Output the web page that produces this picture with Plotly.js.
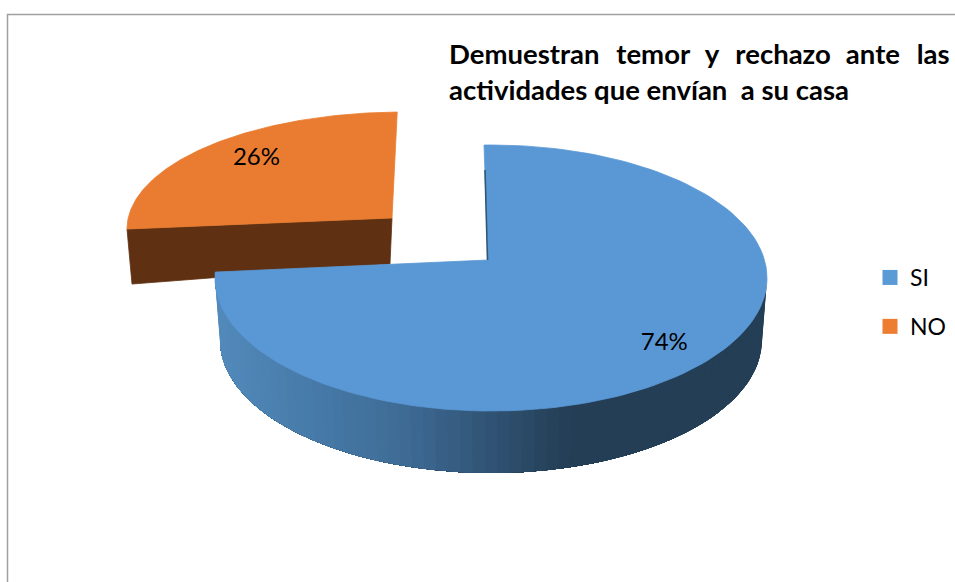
<!DOCTYPE html>
<html><head><meta charset="utf-8">
<script src="https://cdn.plot.ly/plotly-3.0.1.min.js"></script>
<style>html,body{margin:0;padding:0;background:#fff}#c{width:955px;height:582px}</style>
</head><body><div id="c"></div>
<script>
// Data
const categories = ['SI', 'NO'];
const percents = [74, 26];
const colors = ['#5b9bd5', '#ed7d31'];
const faceColors = ['#5a98d5', '#e97c30'];
const gapA = '\u00a0\u00a0\u2009', gapB = '\u00a0\u00a0\u200a';
const titleLine1 = 'Demuestran' + gapA + 'temor' + gapB + 'y' + gapA + 'rechazo' + gapB + 'ante' + gapA + 'las';
const titleLine2 = 'actividades que envían\u00a0 a su casa';

// Drawing geometry of the tilted pie (pixel-based plot coordinates)
const FONT = 'Lato, Carlito, Calibri, sans-serif';
const total = percents.reduce((a, b) => a + b, 0);
const rad = d => d * Math.PI / 180;
const geo = {
  SI: {cx: 491, cy: 278, rx: 276, ry: 133, ax: 488, ay: 260, warp: 14.3, turn: -1.45, labelTurn: -15.5, labelR: 0.80},
  NO: {cx: 403, cy: 229, rx: 276, ry: 117, ax: 392, ay: 218, warp: 9, turn: -1.2, labelTurn: 5, labelR: 0.80}
};
const base = {cx: 491, cy: 340, rx: 271, ry: 133};
const warped = (g, frac) => {
  const t = 360 * frac;
  return t + g.turn + g.warp * (1 - Math.cos(rad(t))) / 2;
};
const onEllipse = (e, deg) => [e.cx + e.rx * Math.sin(rad(deg)), e.cy - e.ry * Math.cos(rad(deg))];

function face(g, f0, f1) {
  const xs = [g.ax], ys = [g.ay];
  for (let i = 0; i <= 150; i++) {
    const p = onEllipse(g, warped(g, f0 + (f1 - f0) * i / 150));
    xs.push(p[0]); ys.push(p[1]);
  }
  xs.push(g.ax); ys.push(g.ay);
  return {x: xs, y: ys};
}
function poly(x, y, color, w) {
  return {type: 'scatter', mode: 'lines', x, y, fill: 'toself', fillcolor: color,
    line: {color, width: w === undefined ? 0.8 : w}, showlegend: false, hoverinfo: 'skip'};
}
function wallColor(x) {
  const stops = [[215, [82, 138, 188]], [300, [72, 124, 170]], [400, [62, 108, 150]], [500, [47, 80, 112]], [570, [35, 62, 85]], [770, [35, 62, 85]]];
  for (let i = 1; i < stops.length; i++) {
    if (x <= stops[i][0]) {
      const t = (x - stops[i - 1][0]) / (stops[i][0] - stops[i - 1][0]);
      const c = stops[i][1].map((v, k) => Math.round(stops[i - 1][1][k] + (v - stops[i - 1][1][k]) * Math.max(t, 0)));
      return 'rgb(' + c.join(',') + ')';
    }
  }
  return 'rgb(35,62,85)';
}

const fEnd = percents[0] / total;
const traces = [];

// NO: exploded slice, cut wall then top face
const gN = geo.NO;
const nLeft = onEllipse(gN, warped(gN, fEnd));
traces.push(poly([nLeft[0], gN.ax, gN.ax - 2, nLeft[0] + 5, nLeft[0]],
                 [nLeft[1], gN.ay, gN.ay + 46, nLeft[1] + 55, nLeft[1]], '#5f3112'));
const fn = face(gN, fEnd, 1);
traces.push(poly(fn.x, fn.y, faceColors[1]));

// SI: outer wall in narrow shaded bands, then top face.
const gS = geo.SI;
const wallEnd = warped(gS, fEnd);
const bands = 70;
for (let i = 0; i < bands; i++) {
  const a = 90 + (wallEnd - 90) * i / bands;
  const xs = [], ys = [], xb = [], yb = [];
  for (let k = i; k <= bands; k++) {
    const d = 90 + (wallEnd - 90) * k / bands;
    const t = onEllipse(gS, d), u = onEllipse(base, d);
    xs.push(t[0]); ys.push(t[1]); xb.unshift(u[0]); yb.unshift(u[1]);
  }
  const mid = onEllipse(gS, a + (wallEnd - 90) / bands / 2);
  traces.push(poly(xs.concat(xb, xs[0]), ys.concat(yb, ys[0]), wallColor(mid[0]), 0));
}
const fs = face(gS, 0, fEnd);
traces.push(poly(fs.x, fs.y, faceColors[0]));
const sTop = onEllipse(gS, warped(gS, 0));
traces.push({type: 'scatter', mode: 'lines', x: [sTop[0] + 1, gS.ax - 0.5], y: [sTop[1] + 25, gS.ay],
  line: {color: '#2f5878', width: 1.6}, showlegend: false, hoverinfo: 'skip'});

// Percentage labels, placed from the slice mid-angles
const labelPos = (g, frac) => onEllipse({cx: g.cx, cy: g.cy, rx: g.rx * g.labelR, ry: g.ry * g.labelR}, warped(g, frac) + g.labelTurn);
const lp = [labelPos(gS, fEnd / 2), labelPos(gN, fEnd + (1 - fEnd) / 2)];
traces.push({type: 'scatter', mode: 'text', x: lp.map(p => p[0]), y: lp.map(p => p[1]),
  text: percents.map(v => v + '%'), textposition: 'middle center',
  textfont: {family: FONT, size: 24, color: '#000'}, showlegend: false, hoverinfo: 'skip'});

// Legend entries
categories.forEach((name, i) => traces.push({type: 'scatter', mode: 'markers', x: [null], y: [null], name,
  legendgroup: name, marker: {symbol: 'square', size: 15, color: colors[i]}, hoverinfo: 'skip'}));

const layout = {
  width: 955, height: 582,
  margin: {l: 0, r: 0, t: 0, b: 0},
  paper_bgcolor: '#fff', plot_bgcolor: '#fff',
  xaxis: {range: [0, 955], visible: false, fixedrange: true},
  yaxis: {range: [582, 0], visible: false, fixedrange: true},
  title: {
    text: titleLine1 + '<br>' + titleLine2,
    font: {family: FONT, size: 27.5, color: '#000', weight: 700},
    x: 449 / 955, xref: 'paper', xanchor: 'left',
    y: 1 - 64 / 582, yref: 'container', yanchor: 'top'
  },
  legend: {x: 870 / 955, y: 1 - 256 / 582, xanchor: 'left', yanchor: 'top',
    bgcolor: 'rgba(0,0,0,0)', font: {family: FONT, size: 23, color: '#000'},
    tracegroupgap: 16, traceorder: 'grouped', itemwidth: 30},
  shapes: [{type: 'path', path: 'M 7.5 582 L 7.5 14.5 L 955 14.5', line: {color: '#a0a0a0', width: 1.5}}],
  showlegend: true
};
Plotly.newPlot('c', traces, layout, {displayModeBar: false, staticPlot: true});
</script></body></html>
